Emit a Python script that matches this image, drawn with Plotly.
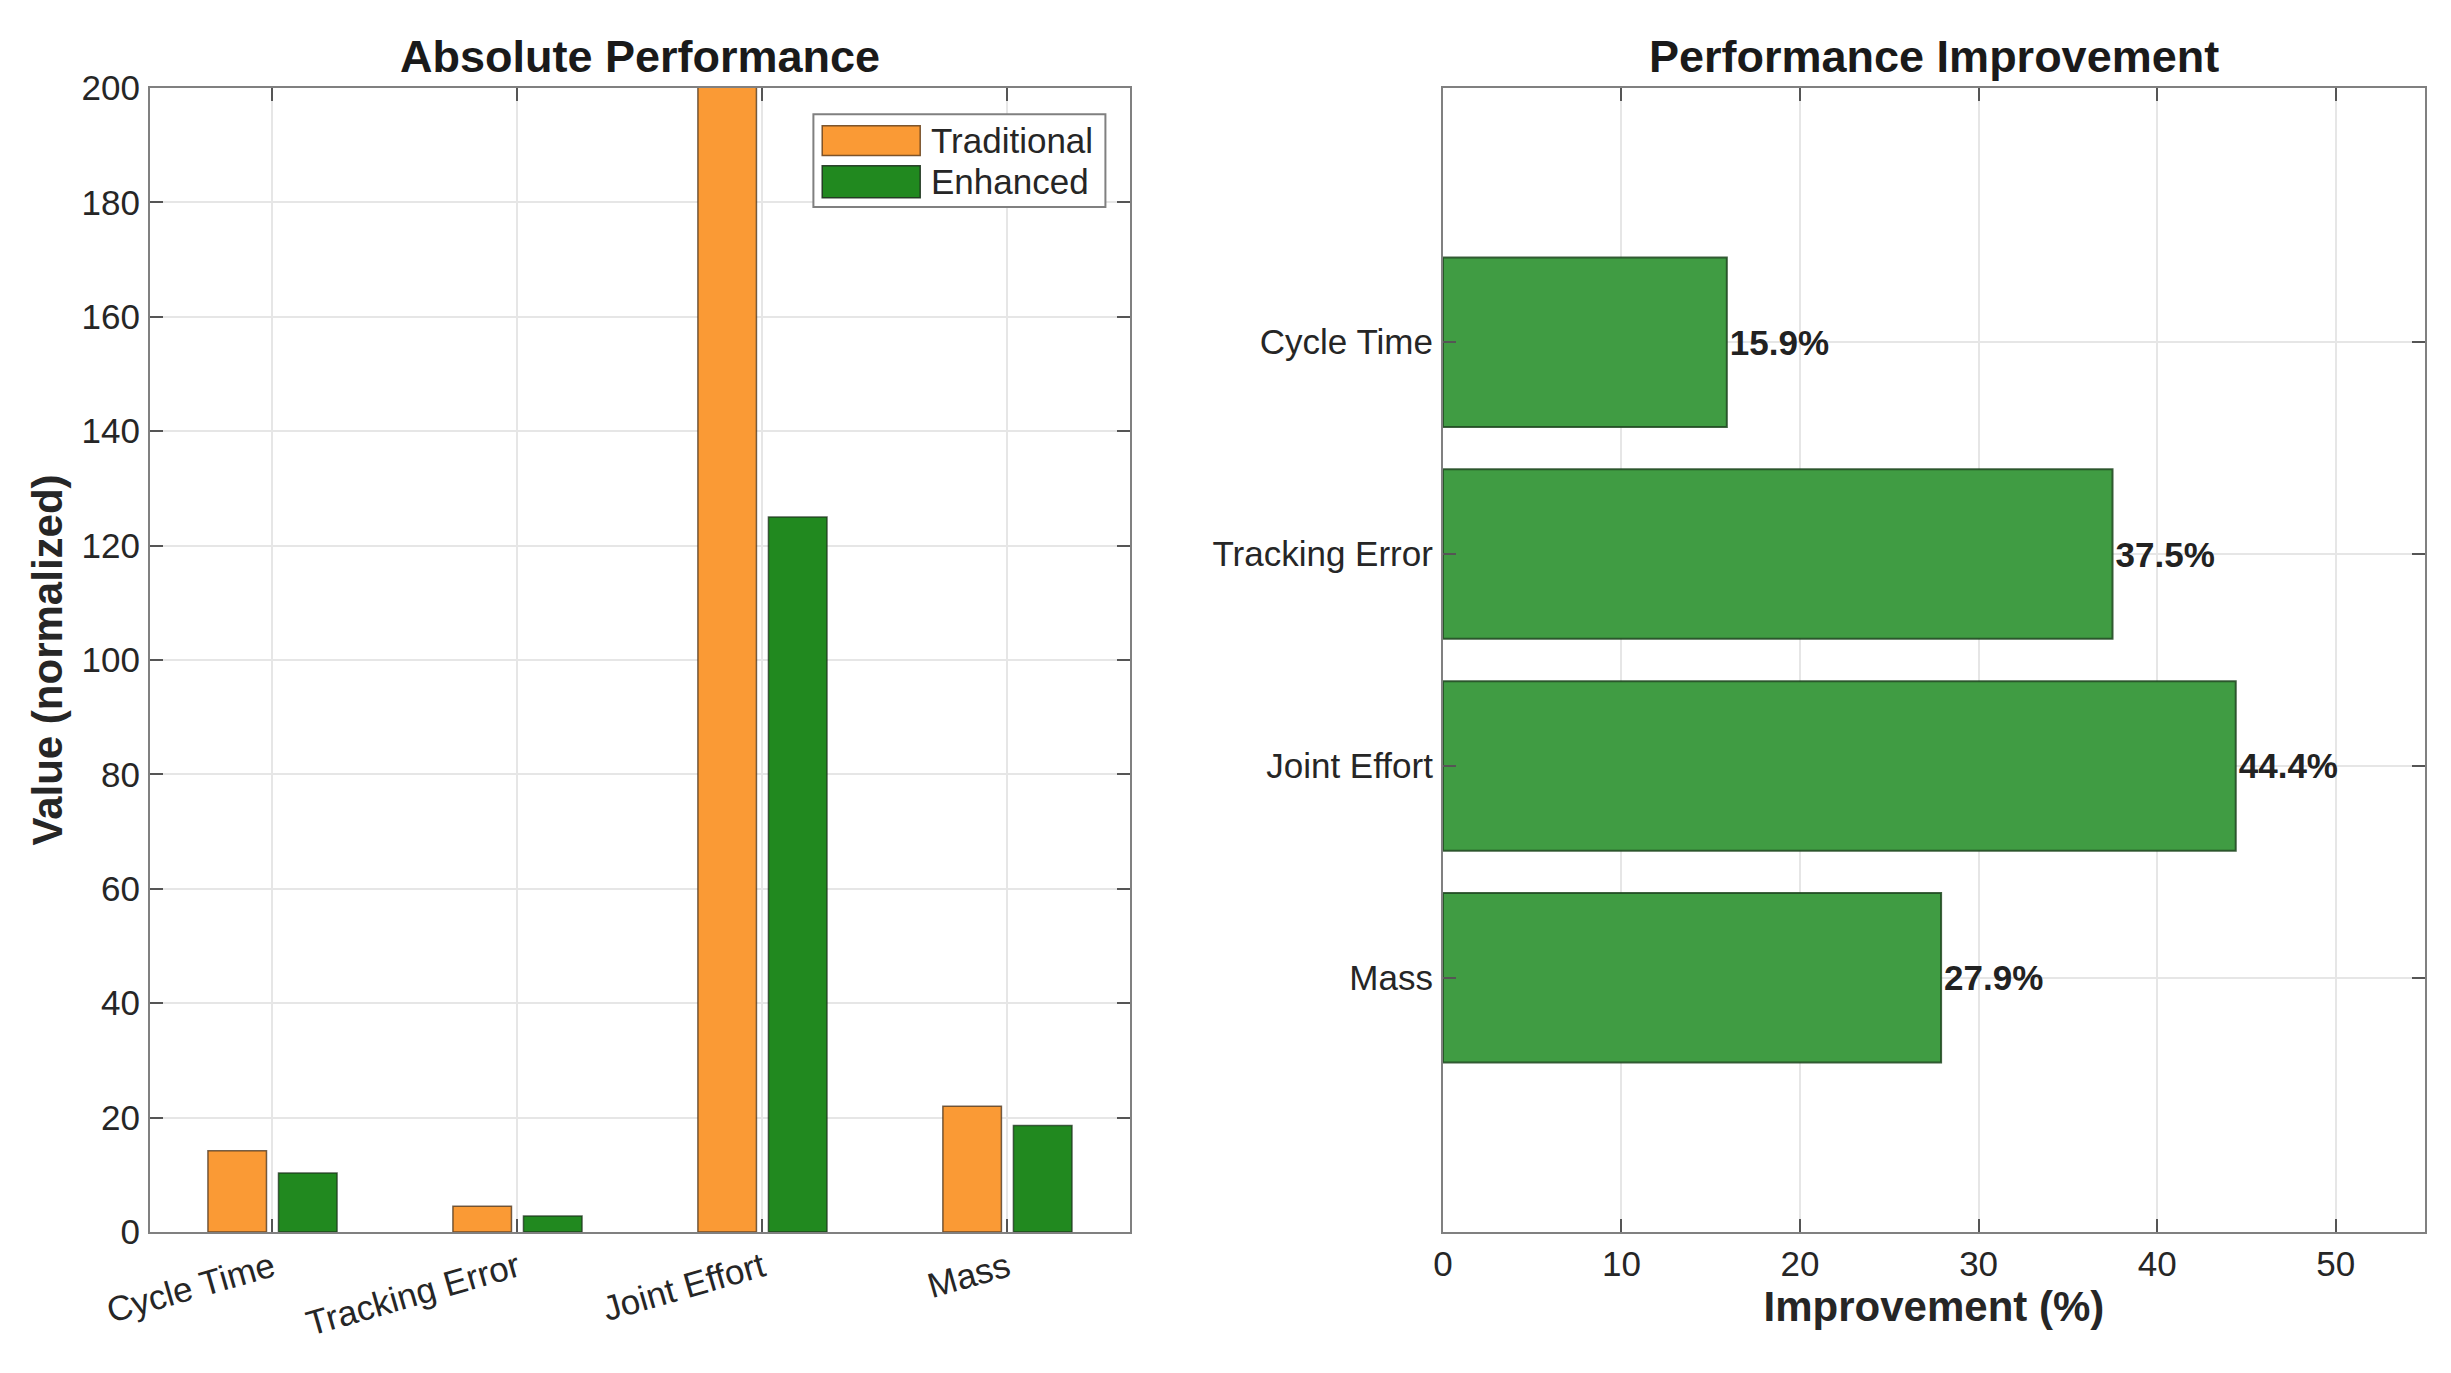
import plotly.graph_objects as go

# ---- data ----
categories = ["Cycle Time", "Tracking Error", "Joint Effort", "Mass"]
traditional = [14.2, 4.5, 225.0, 22.0]
enhanced = [10.3, 2.8, 125.0, 18.6]
improvement = [15.9, 37.5, 44.4, 27.9]
y_ticks = [0, 20, 40, 60, 80, 100, 120, 140, 160, 180, 200]
x2_ticks = [0, 10, 20, 30, 40, 50]

FONT = "Liberation Sans, Arial, Helvetica, sans-serif"
TXT = "#262626"
ORANGE = "#FA9A35"
GREEN = "#21891F"
GREEN2 = "#409C43"
AXC = "#808080"
GRID = "#E6E6E6"

fig = go.Figure()

fig.add_trace(go.Bar(
    x=categories, y=traditional, name="Traditional",
    marker=dict(color=ORANGE, line=dict(color="rgba(70,50,30,0.75)", width=1.5)),
    xaxis="x", yaxis="y", showlegend=False, cliponaxis=True,
))
fig.add_trace(go.Bar(
    x=categories, y=enhanced, name="Enhanced",
    marker=dict(color=GREEN, line=dict(color="rgba(30,50,30,0.75)", width=1.5)),
    xaxis="x", yaxis="y", showlegend=False, cliponaxis=True,
))
fig.add_trace(go.Bar(
    x=improvement, y=categories, orientation="h", name="Improvement",
    marker=dict(color=GREEN2, line=dict(color="rgba(30,70,32,0.85)", width=2)),
    width=0.8,
    texttemplate="%{x:.1f}%", textposition="outside", constraintext="none",
    textfont=dict(family=FONT, size=35, color="#222222", weight="bold"),
    cliponaxis=False,
    xaxis="x2", yaxis="y2", showlegend=False,
))

common_axis = dict(
    showline=True, linecolor=AXC, linewidth=2, mirror="ticks",
    ticks="inside", ticklen=13, tickwidth=2, tickcolor="#555555",
    showgrid=True, gridcolor=GRID, gridwidth=1.5, zeroline=False,
    tickfont=dict(family=FONT, size=35, color=TXT),
    automargin=False,
)

ydom = [0.1027, 0.9359]

fig.update_layout(
    width=2451, height=1373,
    margin=dict(l=0, r=0, t=0, b=0, pad=0, autoexpand=False),
    paper_bgcolor="white", plot_bgcolor="white",
    barmode="group", bargap=0.424, bargroupgap=0.17,
    font=dict(family=FONT, color=TXT),
    xaxis=dict(
        domain=[0.0612, 0.4610], anchor="y",
        type="category", categoryorder="array", categoryarray=categories,
        range=[-0.5, 3.5], tickangle=-16,
        **common_axis,
    ),
    yaxis=dict(
        domain=ydom, anchor="x",
        range=[0, 200], tickvals=y_ticks, ticklabelstandoff=1,
        title=dict(text="Value (normalized)", standoff=6,
                   font=dict(family=FONT, size=42, color=TXT, weight="bold")),
        **common_axis,
    ),
    xaxis2=dict(
        domain=[0.5887, 0.9894], anchor="y2",
        range=[0, 55], tickvals=x2_ticks, ticklabelstandoff=0,
        title=dict(text="Improvement (%)", standoff=4,
                   font=dict(family=FONT, size=42, color=TXT, weight="bold")),
        **common_axis,
    ),
    yaxis2=dict(
        domain=ydom, anchor="x2",
        type="category", categoryorder="array", categoryarray=categories,
        range=[4.2, -1.2], ticklabelstandoff=1,
        **common_axis,
    ),
)

# subplot titles
fig.add_annotation(text="Absolute Performance", x=0.5, xref="x domain", y=0.9592, yref="paper",
                   xanchor="center", yanchor="middle", showarrow=False,
                   font=dict(family=FONT, size=45, color="#1a1a1a", weight="bold"))
fig.add_annotation(text="Performance Improvement", x=0.5, xref="x2 domain", y=0.9592, yref="paper",
                   xanchor="center", yanchor="middle", showarrow=False,
                   font=dict(family=FONT, size=45, color="#1a1a1a", weight="bold"))

# legend (drawn inside left axes, top right)
fig.add_shape(type="rect", xref="x domain", yref="y domain", x0=0.677, x1=0.975, y0=0.896, y1=0.977,
              fillcolor="white", line=dict(color=AXC, width=2), layer="above")
fig.add_shape(type="rect", xref="x domain", yref="y domain", x0=0.686, x1=0.786, y0=0.941, y1=0.967,
              fillcolor=ORANGE, line=dict(color="rgba(110,70,30,0.9)", width=1.5), layer="above")
fig.add_shape(type="rect", xref="x domain", yref="y domain", x0=0.686, x1=0.786, y0=0.904, y1=0.932,
              fillcolor=GREEN, line=dict(color="rgba(30,50,30,0.9)", width=1.5), layer="above")
fig.add_annotation(text="Traditional", xref="x domain", yref="y domain", x=0.795, y=0.9545,
                   xanchor="left", yanchor="middle", showarrow=False,
                   font=dict(family=FONT, size=35, color=TXT))
fig.add_annotation(text="Enhanced", xref="x domain", yref="y domain", x=0.795, y=0.918,
                   xanchor="left", yanchor="middle", showarrow=False,
                   font=dict(family=FONT, size=35, color=TXT))

fig.write_html("out.html")
